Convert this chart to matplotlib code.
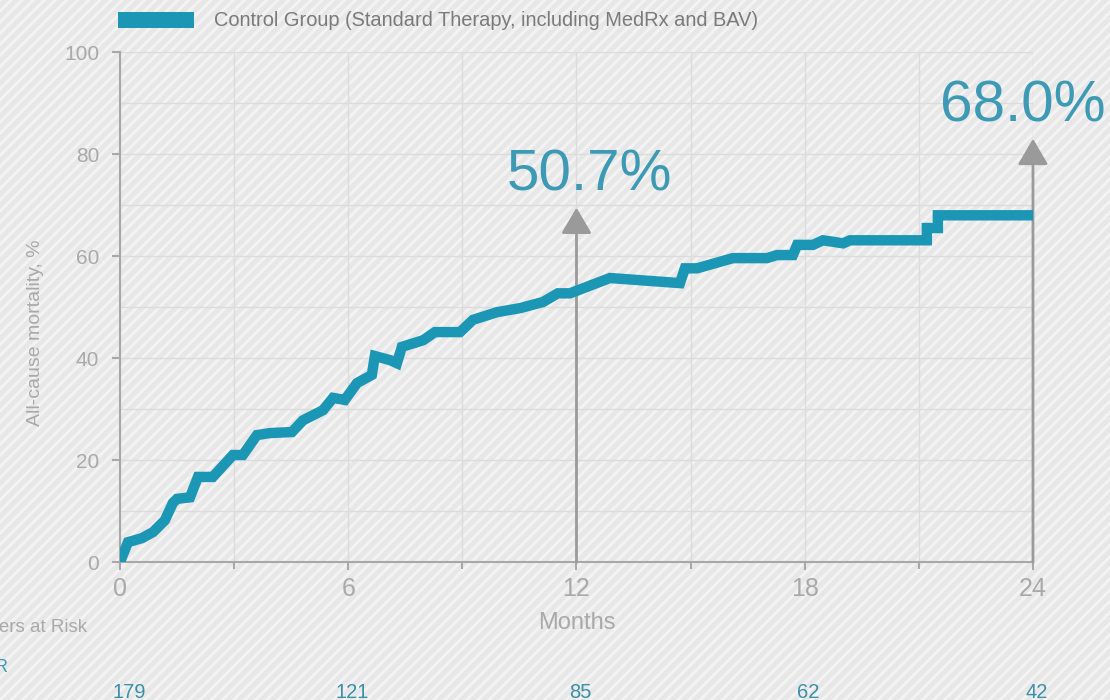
import matplotlib.pyplot as plt
from matplotlib.patches import Rectangle, Patch

# Kaplan-Meier style curve
months = [0, 0.21, 0.58, 0.87, 1.18, 1.39, 1.50, 1.84, 2.05, 2.44, 2.97, 3.23, 3.60,
          3.94, 4.52, 4.81, 5.34, 5.60, 5.91, 6.23, 6.62, 6.70, 7.10, 7.28, 7.41,
          7.97, 8.28, 8.94, 9.28, 9.91, 10.52, 11.12, 11.51, 11.83, 12.88, 14.72,
          14.85, 15.17, 16.11, 17.01, 17.27, 17.69, 17.80, 18.22, 18.48, 19.01,
          19.19, 21.21, 21.21, 21.50, 21.50, 24.0]
mortality = [0, 3.9, 4.7, 5.9, 8.2, 11.6, 12.4, 12.7, 16.7, 16.7, 21.0, 21.0, 24.9,
             25.3, 25.5, 27.8, 29.8, 32.2, 31.8, 35.1, 36.7, 40.4, 39.6, 39.0, 42.2,
             43.5, 45.1, 45.1, 47.5, 49.0, 49.8, 51.0, 52.7, 52.7, 55.7, 54.7,
             57.6, 57.6, 59.6, 59.6, 60.2, 60.2, 62.2, 62.2, 63.1, 62.5,
             63.1, 63.1, 65.5, 65.5, 68.0, 68.0]

callout_months = [12, 24]
callout_labels = ['50.7%', '68.0%']
callout_tips = [69.5, 83.0]

risk_months = [0, 6, 12, 18, 24]
risk_counts = [179, 121, 85, 62, 42]

series_label = 'Control Group (Standard Therapy, including MedRx and BAV)'

TEAL = '#1b96b4'
TEXT_TEAL = '#3d9ab5'
GREY = '#9a9a9a'
LABEL_GREY = '#a9a9a9'

plt.rcParams['font.family'] = ['Liberation Sans', 'DejaVu Sans']
plt.rcParams['hatch.linewidth'] = 2.2

fig = plt.figure(figsize=(11.1, 7), dpi=100)
fig.patch.set_facecolor('#e7e7e7')
# striped backdrop
fig.patches.append(Rectangle((0, 0), 1, 1, transform=fig.transFigure, facecolor='#e7e7e7',
                             edgecolor='#f3f3f3', hatch='///', lw=0, zorder=-10))

ax = fig.add_axes([0.1081, 0.197, 0.8225, 0.7286])
ax.set_facecolor('none')

ax.plot(months, mortality, color=TEAL, lw=7.5, solid_joinstyle='miter', zorder=4)

ax.set_xlim(0, 24)
ax.set_ylim(0, 100)
ax.set_xticks([0, 6, 12, 18, 24])
ax.set_xticks([3, 9, 15, 21], minor=True)
ax.set_yticks([0, 20, 40, 60, 80, 100])
ax.set_yticks([10, 30, 50, 70, 90], minor=True)
ax.grid(True, which='both', color='#dcdcdc', lw=1.0)
ax.set_axisbelow(True)

for s in ['top', 'right']:
    ax.spines[s].set_visible(False)
for s in ['left', 'bottom']:
    ax.spines[s].set_color('#a8a8a8')
    ax.spines[s].set_linewidth(1.5)

ax.tick_params(axis='both', which='major', colors='#a8a8a8', labelcolor=LABEL_GREY,
               length=6, width=1.5)
ax.tick_params(axis='y', which='major', labelsize=15, pad=9)
ax.tick_params(axis='x', which='major', labelsize=18, pad=5)
ax.tick_params(axis='y', which='minor', length=0)
ax.tick_params(axis='x', which='minor', colors='#a8a8a8', length=5, width=1.5)

ax.set_xlabel('Months', fontsize=17, color=LABEL_GREY, labelpad=8)
ax.set_ylabel('All-cause mortality, %', fontsize=14, color=LABEL_GREY)
ax.yaxis.set_label_coords(-0.083, 0.45)

# arrows with percentages
for m, lab, tip in zip(callout_months, callout_labels, callout_tips):
    ax.annotate('', xy=(m, tip), xytext=(m, 0),
                arrowprops=dict(arrowstyle='-|>,head_length=0.8,head_width=0.47',
                                color=GREY, lw=2, mutation_scale=20, shrinkA=0, shrinkB=0),
                zorder=3, annotation_clip=False)
for m, lab, tip in zip(callout_months, callout_labels, callout_tips):
    if m == callout_months[-1]:
        ax.text(m + 1.9, tip + 1.0, lab, fontsize=42, color=TEXT_TEAL, ha='right',
                va='bottom', zorder=5, clip_on=False)
    else:
        ax.text(m + 0.35, tip + 1.0, lab, fontsize=42, color=TEXT_TEAL, ha='center',
                va='bottom', zorder=5, clip_on=False)

# numbers at risk
for m, n in zip(risk_months, risk_counts):
    ax.text(m + (0.25 if m == 0 else 0.1), -25.5, str(n), fontsize=14.5, color='#3a8fa8',
            ha='center', va='center', clip_on=False)
fig.text(87 / 1110, 1 - 628 / 700, 'Numbers at Risk', fontsize=13.5, color=LABEL_GREY,
         ha='right', va='center')
fig.text(7 / 1110, 1 - 668 / 700, 'R', fontsize=13, color=TEXT_TEAL, ha='right', va='center')

handle = Patch(facecolor=TEAL, edgecolor='none')
fig.legend([handle], [series_label], loc='center left', bbox_to_anchor=(0.106, 1 - 21 / 700),
           frameon=False, fontsize=14.4, handlelength=3.8, handleheight=0.85,
           handletextpad=1.0, borderpad=0, borderaxespad=0, labelcolor='#7a7a7a')

fig.savefig('out.png', dpi=100, facecolor=fig.get_facecolor())
